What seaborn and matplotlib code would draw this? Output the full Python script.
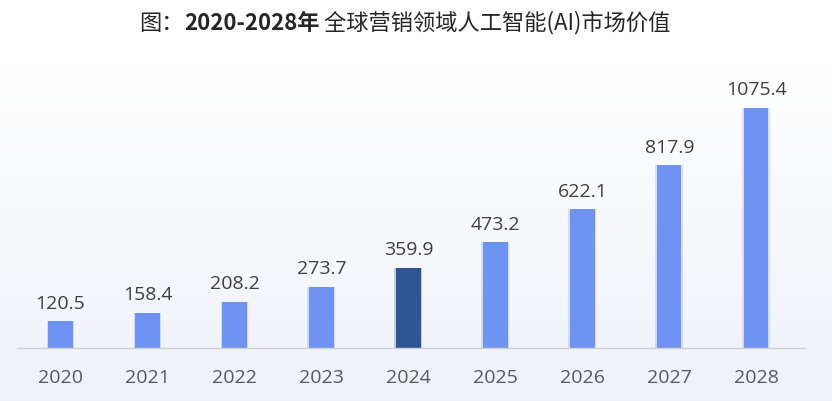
import numpy as np
import pandas as pd
import matplotlib
matplotlib.use("Agg")
import matplotlib.pyplot as plt
import seaborn as sns

# data
years = ["2020", "2021", "2022", "2023", "2024", "2025", "2026", "2027", "2028"]
values = [120.5, 158.4, 208.2, 273.7, 359.9, 473.2, 622.1, 817.9, 1075.4]
highlight_year = "2024"

df = pd.DataFrame({"year": years, "value": values})
df["group"] = np.where(df["year"] == highlight_year, "hi", "base")

sns.set_style("white")
plt.rcParams['font.family'] = ['Noto Sans CJK SC', 'DejaVu Sans']

fig = plt.figure(figsize=(8.32, 4.01), dpi=100)

# soft background gradient (white at top, pale blue-grey at the bottom)
bg = fig.add_axes([0, 0, 1, 1], zorder=-10)
grad = np.linspace(0, 1, 256).reshape(-1, 1)
top_c = np.array([1.0, 1.0, 1.0])
bot_c = np.array([0.93, 0.945, 0.975])
img = top_c + (bot_c - top_c) * grad[:, :, None] ** 1.5
bg.imshow(img, aspect="auto", extent=[0, 1, 0, 1], origin="upper")
bg.axis("off")

ax = fig.add_axes([17 / 832, 53 / 401, 788 / 832, 288 / 401])
ax.patch.set_alpha(0)

palette = {"base": "#6f93f2", "hi": "#2f5597"}

# faint glow behind the bars
sns.barplot(data=df, x="year", y="value", hue="group", palette=palette,
            width=0.32, alpha=0.25, saturation=1, linewidth=0,
            legend=False, ax=ax, dodge=False)
sns.barplot(data=df, x="year", y="value", hue="group", palette=palette,
            width=0.28, saturation=1, linewidth=0,
            legend=False, ax=ax, dodge=False)

for i, v in enumerate(values):
    ax.text(i, v + 38, f"{v:.1f}", ha="center", va="bottom",
            fontsize=14, color="#404040", family="Open Sans")

ax.set_xlim(-0.5, 8.56)
ax.set_ylim(0, 1290)
ax.set_xlabel("")
ax.set_ylabel("")
ax.set_yticks([])
ax.tick_params(axis="x", length=0, pad=15, labelsize=14, labelcolor="#595959")
for lab in ax.get_xticklabels():
    lab.set_family("Open Sans")
for s in ["top", "right", "left"]:
    ax.spines[s].set_visible(False)
ax.spines["bottom"].set_color("#d0d0d0")
ax.spines["bottom"].set_linewidth(1.0)

# title with bold year range
parts = [("图：", "normal"), ("2020-2028年", "bold"), (" 全球营销领域人工智能(AI)市场价值", "normal")]
fig.canvas.draw()
renderer = fig.canvas.get_renderer()
texts = []
widths = []
for s, w in parts:
    t = fig.text(0, 0, s, fontsize=16, fontweight=w, color="#262626", va="center")
    bb = t.get_window_extent(renderer)
    widths.append(bb.width / fig.bbox.width)
    texts.append(t)
total = sum(widths)
x0 = 405 / 832 - total / 2
y0 = 1 - 23 / 401
for t, w in zip(texts, widths):
    t.set_position((x0, y0))
    x0 += w

fig.savefig("out.png", dpi=100)
